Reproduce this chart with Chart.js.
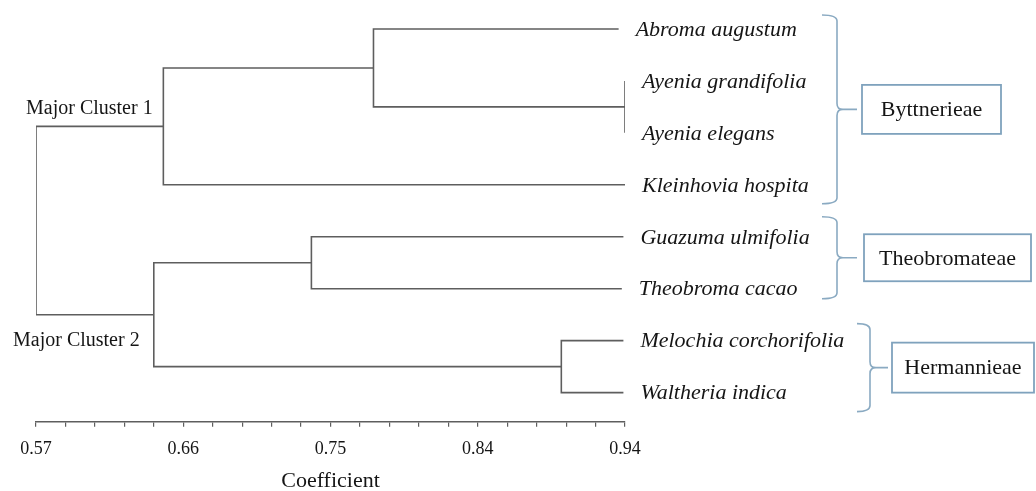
<!DOCTYPE html>
<html>
<head>
<meta charset="utf-8">
<script src="https://cdn.jsdelivr.net/npm/chart.js@4.4.1/dist/chart.umd.min.js"></script>
<style>
  html, body { margin: 0; padding: 0; background: #ffffff; }
  #wrap { width: 1036px; height: 491px; }
</style>
</head>
<body>
<div id="wrap"><canvas id="c" width="1036" height="491"></canvas></div>
<script>
// ---------------- data ----------------
const leafNames = ['Abroma augustum', 'Ayenia grandifolia', 'Ayenia elegans', 'Kleinhovia hospita',
                   'Guazuma ulmifolia', 'Theobroma cacao', 'Melochia corchorifolia', 'Waltheria indica'];
const leafEnds = [0.936, 0.94, 0.94, 0.94, 0.939, 0.938, 0.939, 0.939];
// merges (linkage): children refer to leaves (L#) or earlier merges (M#)
const mergeLeft   = ['L1', 'L0', 'M1', 'L4', 'L6', 'M3', 'M2'];
const mergeRight  = ['L2', 'M0', 'L3', 'L5', 'L7', 'M4', 'M5'];
const mergeHeight = [0.94, 0.782, 0.650, 0.743, 0.900, 0.644, 0.57];
const clusterLabels = ['Major Cluster 1', 'Major Cluster 2'];
const groupNames = ['Byttnerieae', 'Theobromateae', 'Hermannieae'];
const groupFirst = [0, 4, 6];
const groupLast  = [3, 5, 7];
const axisMin = 0.57, axisMax = 0.94;
const tickLabels = ['0.57', '0.66', '0.75', '0.84', '0.94'];
const axisTitle = 'Coefficient';

// ---------------- build segments ----------------
const nodeY = {}, nodeX = {};
leafNames.forEach((n, i) => { nodeY['L' + i] = i; nodeX['L' + i] = leafEnds[i]; });
const datasets = [];
mergeHeight.forEach((h, k) => {
  const a = mergeLeft[k], b = mergeRight[k];
  const pts = [
    { x: nodeX[a], y: nodeY[a] },
    { x: h, y: nodeY[a] },
    { x: h, y: nodeY[b] },
    { x: nodeX[b], y: nodeY[b] }
  ];
  nodeY['M' + k] = (nodeY[a] + nodeY[b]) / 2;
  nodeX['M' + k] = h;
  datasets.push({
    data: pts, showLine: true, borderColor: '#5e5e5e', borderWidth: 1.6,
    pointRadius: 0, tension: 0, fill: false
  });
});

const SERIF = '"Liberation Serif", "Times New Roman", serif';
const braceColor = '#8aaac2';

// ---------------- annotation plugin ----------------
const annot = {
  id: 'annot',
  afterDatasetsDraw(chart) {
    const ctx = chart.ctx, xs = chart.scales.x, ys = chart.scales.y;
    ctx.save();
    // leaf labels
    ctx.fillStyle = '#151515';
    ctx.font = 'italic 22px ' + SERIF;
    ctx.textBaseline = 'middle';
    ctx.textAlign = 'left';
    leafNames.forEach((n, i) => {
      ctx.fillText(n, xs.getPixelForValue(leafEnds[i]) + 17, ys.getPixelForValue(i) + 1);
    });
    // cluster labels
    ctx.font = '20px ' + SERIF;
    const rootX = xs.getPixelForValue(mergeHeight[mergeHeight.length - 1]);
    const c1 = mergeLeft[mergeLeft.length - 1], c2 = mergeRight[mergeRight.length - 1];
    ctx.fillText(clusterLabels[0], rootX - 10, ys.getPixelForValue(nodeY[c1]) - 18);
    ctx.fillText(clusterLabels[1], rootX - 23, ys.getPixelForValue(nodeY[c2]) + 26);

    // braces and boxes
    const layout = [
      { x0: 822, x1: 837, tip: 857, topOff: -14, botOff: 19, bx0: 862, bx1: 1001, bh: 49 },
      { x0: 822, x1: 837, tip: 857, topOff: -20, botOff: 10, bx0: 864, bx1: 1031, bh: 47 },
      { x0: 857, x1: 870, tip: 888, topOff: -17, botOff: 19, bx0: 892, bx1: 1034, bh: 50 }
    ];
    groupNames.forEach((g, k) => {
      const L = layout[k];
      const top = ys.getPixelForValue(groupFirst[k]) + L.topOff;
      const bot = ys.getPixelForValue(groupLast[k]) + L.botOff;
      const mid = (top + bot) / 2;
      const r = 6;
      ctx.strokeStyle = braceColor;
      ctx.lineWidth = 1.6;
      ctx.beginPath();
      ctx.moveTo(L.x0, top);
      ctx.quadraticCurveTo(L.x1, top, L.x1, top + r);
      ctx.lineTo(L.x1, mid - r);
      ctx.quadraticCurveTo(L.x1, mid, L.x1 + r, mid);
      ctx.quadraticCurveTo(L.x1, mid, L.x1, mid + r);
      ctx.lineTo(L.x1, bot - r);
      ctx.quadraticCurveTo(L.x1, bot, L.x0, bot);
      ctx.moveTo(L.x1 + r - 2, mid);
      ctx.lineTo(L.tip, mid);
      ctx.stroke();
      // box
      ctx.strokeStyle = '#7fa2bd';
      ctx.lineWidth = 1.8;
      ctx.strokeRect(L.bx0, mid - L.bh / 2, L.bx1 - L.bx0, L.bh);
      ctx.fillStyle = '#151515';
      ctx.font = '22px ' + SERIF;
      ctx.textAlign = 'center';
      ctx.fillText(g, (L.bx0 + L.bx1) / 2, mid + 1);
      ctx.textAlign = 'left';
    });
    ctx.restore();
  }
};

new Chart(document.getElementById('c'), {
  type: 'scatter',
  data: { datasets },
  options: {
    responsive: false,
    animation: false,
    layout: { padding: { left: 36, right: 411, top: 3, bottom: 0 } },
    plugins: { legend: { display: false }, tooltip: { enabled: false } },
    scales: {
      x: {
        type: 'linear', min: axisMin, max: axisMax,
        afterBuildTicks(scale) {
          const t = [];
          for (let i = 0; i <= 20; i++) t.push({ value: axisMin + i * (axisMax - axisMin) / 20 });
          scale.ticks = t;
        },
        ticks: {
          autoSkip: false, maxRotation: 0, padding: 12,
          color: '#151515', font: { family: SERIF, size: 18 },
          callback: (v, i) => (i % 5 === 0 ? tickLabels[i / 5] : '')
        },
        grid: { display: true, drawOnChartArea: false, drawTicks: true, tickLength: 5, color: '#5e5e5e', lineWidth: 1.2 },
        border: { display: true, color: '#5e5e5e', width: 1.5 },
        title: { display: true, text: axisTitle, color: '#151515',
                 font: { family: SERIF, size: 22, lineHeight: 0.85 }, padding: { top: 0, bottom: 0 } }
      },
      y: {
        type: 'linear', reverse: true, min: -0.5, max: 7.56, display: false
      }
    }
  },
  plugins: [annot]
});
</script>
</body>
</html>
